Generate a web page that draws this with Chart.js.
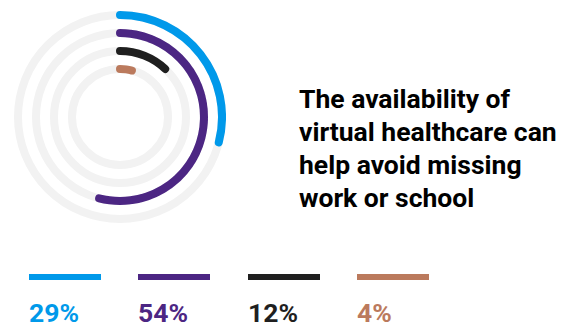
<!DOCTYPE html>
<html>
<head>
<meta charset="utf-8">
<script src="https://cdn.jsdelivr.net/npm/chart.js@4"></script>
<style>
  html, body { margin: 0; padding: 0; background: #ffffff; }
  body { width: 564px; height: 327px; position: relative; overflow: hidden; font-family: Roboto, "Noto Sans", sans-serif; }
  #rings { position: absolute; left: 14px; top: 11px; width: 212px; height: 212px; }
  #headline { position: absolute; left: 299px; top: 81.5px; width: 265px; margin: 0;
    font-weight: 700; font-size: 26.5px; line-height: 33px; color: #000000; }
  .key { position: absolute; top: 274px; width: 72px; }
  .key .swatch { height: 6px; width: 72px; }
  .key .pct { position: absolute; top: 24px; left: 0; font-weight: 700; font-size: 26.5px; line-height: 30px; white-space: nowrap; }
</style>
</head>
<body>
<div id="rings"><canvas id="donut" width="212" height="212"></canvas></div>
<p id="headline">The availability of virtual healthcare can help avoid missing work or school</p>
<div id="keys"></div>
<script>
// Survey shares, outermost ring first
const categories = ['A', 'B', 'C', 'D'];
const values = [29, 54, 12, 4];
const valueLabels = ['29%', '54%', '12%', '4%'];
const colors = ['#0099EA', '#4C2683', '#1F1F1F', '#BB7A5D'];
const trackColor = '#F2F2F2';
const clear = 'rgba(0,0,0,0)';

const strokeWidth = 8;  // ring line thickness
const ringGap = 18;     // distance between ring centre lines

// Each ring is a zero-thickness doughnut dataset outlined with a thick round-joined
// border, so arcs get rounded ends. The coloured arc and its grey track share a radius;
// a blank spacer dataset separates consecutive rings.
const datasets = [];
values.forEach((v, i) => {
  datasets.push({
    label: categories[i],
    data: [v, 100 - v],
    weight: 0,
    backgroundColor: [clear, clear],
    borderColor: [colors[i], clear],
    borderWidth: ctx => (ctx.dataIndex === 0 ? strokeWidth : 0),
    borderJoinStyle: 'round'
  });
  datasets.push({
    label: categories[i] + ' track',
    data: [100],
    weight: 0,
    backgroundColor: [clear],
    borderColor: [trackColor],
    borderWidth: strokeWidth,
    borderJoinStyle: 'round'
  });
  if (i < values.length - 1) {
    datasets.push({ data: [100], weight: ringGap, backgroundColor: [clear], borderWidth: 0 });
  }
});

new Chart(document.getElementById('donut'), {
  type: 'doughnut',
  data: { labels: ['share', 'rest'], datasets: datasets },
  options: {
    responsive: false,
    animation: false,
    events: [],
    cutout: 48,
    rotation: 0,
    layout: { padding: 0 },
    plugins: { legend: { display: false }, tooltip: { enabled: false } }
  }
});

// Key row under the rings
const keyLefts = [29, 138, 248, 357];
const keys = document.getElementById('keys');
values.forEach((v, i) => {
  const item = document.createElement('div');
  item.className = 'key';
  item.style.left = keyLefts[i] + 'px';
  const sw = document.createElement('div');
  sw.className = 'swatch';
  sw.style.background = colors[i];
  const pct = document.createElement('div');
  pct.className = 'pct';
  pct.style.color = colors[i];
  pct.textContent = valueLabels[i];
  item.appendChild(sw);
  item.appendChild(pct);
  keys.appendChild(item);
});
</script>
</body>
</html>
